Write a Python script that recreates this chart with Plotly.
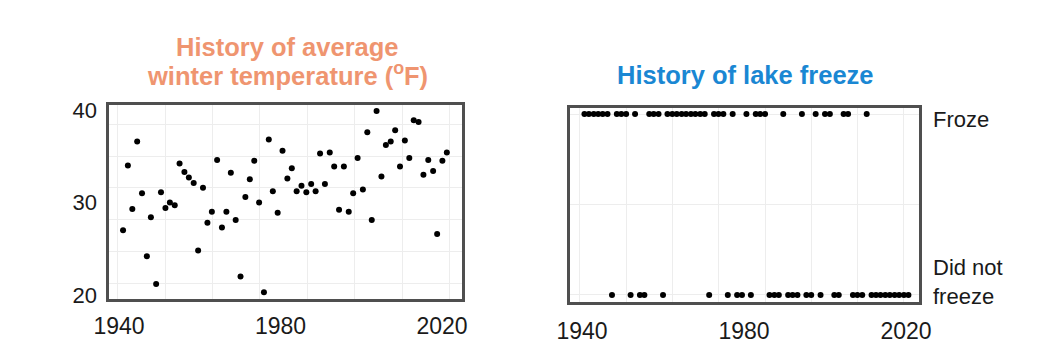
import plotly.graph_objects as go

# ---------------- data ----------------
temp_years = [1941.0, 1942.2, 1943.3, 1944.5, 1945.7, 1946.9, 1947.9, 1949.2, 1950.4, 1951.5,
              1952.6, 1953.8, 1955.0, 1956.2, 1957.3, 1958.5, 1959.6, 1960.8, 1961.9, 1963.0,
              1964.3, 1965.5, 1966.6, 1967.7, 1968.9, 1970.1, 1971.3, 1972.4, 1973.5, 1974.7,
              1975.9, 1977.1, 1978.1, 1979.3, 1980.5, 1981.7, 1982.8, 1984.0, 1985.2, 1986.4,
              1987.6, 1988.7, 1989.8, 1991.0, 1992.2, 1993.3, 1994.5, 1995.7, 1996.9, 1998.0,
              1999.1, 2000.4, 2001.5, 2002.6, 2003.8, 2005.0, 2006.1, 2007.3, 2008.4, 2009.6,
              2010.8, 2011.9, 2013.0, 2014.2, 2015.4, 2016.6, 2017.8, 2018.8, 2020.1, 2021.2]
temp_values = [27.0, 34.0, 29.3, 36.6, 31.0, 24.2, 28.4, 21.2, 31.1, 29.4,
               30.0, 29.7, 34.2, 33.3, 32.7, 32.1, 24.8, 31.6, 27.8, 29.0,
               34.6, 27.3, 29.0, 33.2, 28.1, 22.0, 30.6, 32.5, 34.5, 30.0,
               20.3, 36.8, 31.2, 28.9, 35.6, 32.6, 33.7, 31.2, 31.8, 31.1,
               32.0, 31.2, 35.3, 32.0, 35.4, 33.9, 29.2, 33.9, 29.0, 31.0,
               34.8, 31.4, 37.6, 28.1, 39.9, 32.8, 36.2, 36.6, 37.8, 33.9,
               36.7, 34.8, 38.9, 38.7, 33.0, 34.6, 33.4, 26.6, 34.5, 35.4]

freeze_years = [1940.6, 1941.7, 1942.9, 1944.0, 1945.1, 1946.3, 1947.4, 1948.6, 1949.7, 1950.9,
                1952.0, 1953.1, 1954.3, 1955.4, 1956.6, 1957.7, 1958.9, 1960.0, 1961.1, 1962.3,
                1963.4, 1964.6, 1965.7, 1966.9, 1968.0, 1969.2, 1970.3, 1971.4, 1972.6, 1973.7,
                1974.9, 1976.0, 1977.2, 1978.3, 1979.5, 1980.6, 1981.7, 1982.9, 1984.0, 1985.2,
                1986.3, 1987.5, 1988.6, 1989.7, 1990.9, 1992.0, 1993.2, 1994.3, 1995.4, 1996.6,
                1997.7, 1998.9, 2000.0, 2001.2, 2002.3, 2003.4, 2004.6, 2005.7, 2006.9, 2008.0,
                2009.2, 2010.3, 2011.5, 2012.6, 2013.7, 2014.9, 2016.0, 2017.2, 2018.3, 2019.5,
                2020.6]
# 1 = Froze, 0 = Did not freeze
freeze_status = [1, 1, 1, 1, 1, 1, 0, 1, 1, 1,
                 0, 1, 0, 0, 1, 1, 1, 0, 1, 1,
                 1, 1, 1, 1, 1, 1, 1, 0, 1, 1,
                 1, 0, 1, 0, 0, 1, 0, 1, 1, 1,
                 0, 0, 0, 1, 0, 0, 0, 1, 0, 0,
                 1, 0, 1, 1, 0, 0, 1, 1, 0, 0,
                 0, 1, 0, 0, 0, 0, 0, 0, 0, 0,
                 0]

year_tick_values = [1940, 1980, 2020]
year_tick_labels = ["1940", "1980", "2020"]
temp_tick_values = [20, 30, 40]
temp_tick_labels = ["20", "30", "40"]
freeze_tick_values = [0, 1]
freeze_tick_labels = ["Did not<br>freeze", "Froze"]

left_title_lines = ["History of average", "winter temperature (<sup>o</sup>F)"]
right_title = "History of lake freeze"

# ---------------- layout helpers (page pixels -> paper fractions) ----------------
W, H = 1052, 358


def fx(px):
    return px / W


def fy(py):
    return 1 - py / H


FONT = "Liberation Sans, Arial, Helvetica, sans-serif"
FRAME = "#4f4f4f"
GRID = "#ededed"
TITLE_ORANGE = "#EF9570"
TITLE_BLUE = "#1A87D3"

fig = go.Figure()

fig.add_trace(go.Scatter(
    x=temp_years, y=temp_values, mode="markers",
    marker=dict(color="#000000", size=6),
    xaxis="x", yaxis="y", showlegend=False, hoverinfo="x+y"))

fig.add_trace(go.Scatter(
    x=freeze_years, y=freeze_status, mode="markers",
    marker=dict(color="#000000", size=6),
    xaxis="x2", yaxis="y2", showlegend=False, hoverinfo="x+y"))

axis_common = dict(showline=True, mirror=True, linewidth=3, linecolor=FRAME,
                   zeroline=False, ticks="", fixedrange=True, automargin=False)

fig.update_layout(
    width=W, height=H,
    margin=dict(l=0, r=0, t=0, b=0, autoexpand=False),
    paper_bgcolor="white", plot_bgcolor="white",
    font=dict(family=FONT, color="#1a1a1a"),
    xaxis=dict(domain=[fx(108.5), fx(461.5)], range=[1937.40, 2024.83], anchor="y",
               tickmode="array", tickvals=year_tick_values, ticktext=year_tick_labels,
               tickfont=dict(size=23), showgrid=False, ticklabelstandoff=5,
               minor=dict(tickmode="linear", tick0=1974.92, dtick=11.76,
                          showgrid=True, gridcolor=GRID, gridwidth=1),
               **axis_common),
    yaxis=dict(domain=[fy(298.5), fy(104.5)], range=[19.62, 40.59], anchor="x",
               tickmode="array", tickvals=temp_tick_values, ticktext=temp_tick_labels,
               tickfont=dict(size=22), showgrid=False, ticklabelstandoff=4,
               minor=dict(tickmode="linear", tick0=31.57, dtick=3.44,
                          showgrid=True, gridcolor=GRID, gridwidth=1),
               **axis_common),
    xaxis2=dict(domain=[fx(569.5), fx(918.5)], range=[1936.91, 2023.09], anchor="y2",
                tickmode="array", tickvals=year_tick_values, ticktext=year_tick_labels,
                tickfont=dict(size=23), showgrid=False, ticklabelstandoff=7,
                minor=dict(tickmode="linear", tick0=1985.19, dtick=11.43,
                           showgrid=True, gridcolor=GRID, gridwidth=1),
                **axis_common),
    yaxis2=dict(domain=[fy(301.5), fy(107.5)], range=[-0.036, 1.036], anchor="x2",
                tickmode="array", tickvals=[0, 0.5, 1], showticklabels=False,
                showgrid=True, gridcolor=GRID, gridwidth=1,
                **axis_common),
)

title_font_l = dict(family=FONT, size=25.5, color=TITLE_ORANGE)
title_font_r = dict(family=FONT, size=25.5, color=TITLE_BLUE)
annotations = [
    dict(text="<b>%s</b>" % left_title_lines[0], x=fx(287), y=fy(46.5), xref="paper", yref="paper",
         xanchor="center", yanchor="middle", showarrow=False, font=title_font_l),
    dict(text="<b>%s</b>" % left_title_lines[1], x=fx(287), y=fy(74), xref="paper", yref="paper",
         xanchor="center", yanchor="middle", showarrow=False, font=title_font_l),
    dict(text="<b>%s</b>" % right_title, x=fx(745), y=fy(75), xref="paper", yref="paper",
         xanchor="center", yanchor="middle", showarrow=False, font=title_font_r),
]
# category labels of the lake-freeze y axis, placed on the right side
label_shift = {1: -5, 0: 13}
for val, lab in zip(freeze_tick_values, freeze_tick_labels):
    annotations.append(dict(text=lab, x=1, xref="x2 domain", y=val, yref="y2",
                            xanchor="left", yanchor="middle", xshift=12, yshift=label_shift[val],
                            align="left", showarrow=False,
                            font=dict(family=FONT, size=22, color="#1a1a1a")))
fig.update_layout(annotations=annotations)

# remove the default 8px page margin so the figure sits at the window's top-left corner
fig.write_html("out.html",
               config={"displayModeBar": False},
               post_script="document.body.style.margin='0';document.body.style.overflow='hidden';")
